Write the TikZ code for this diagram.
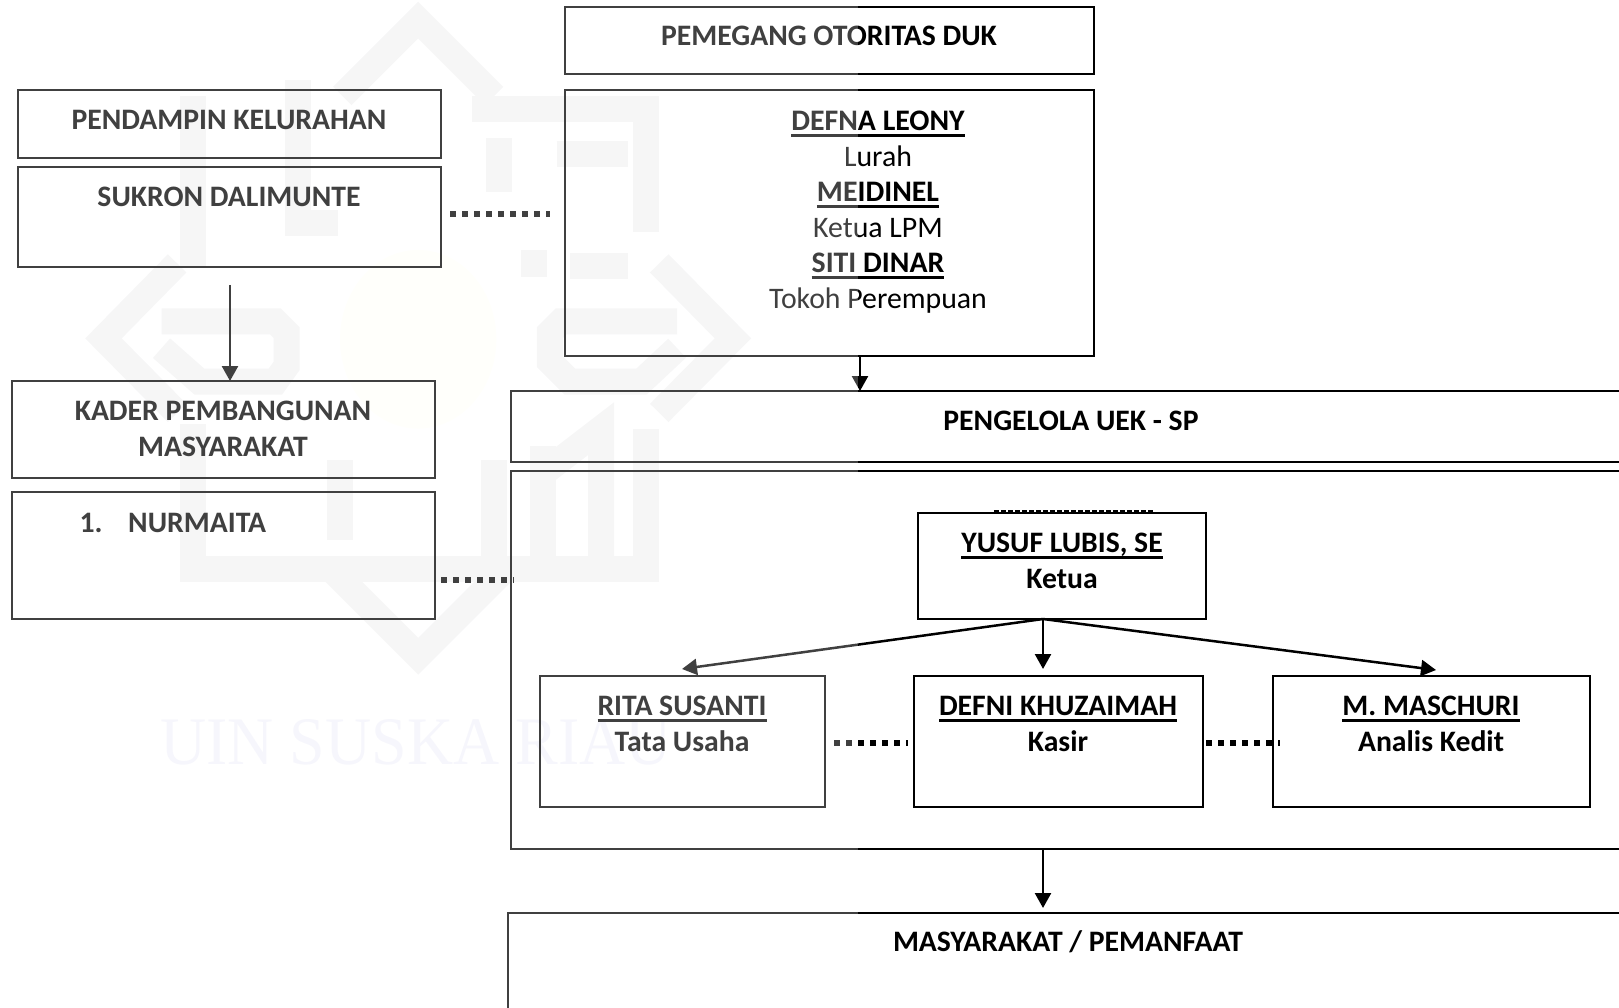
\documentclass[tikz,border=0pt]{standalone}
\usepackage{fontspec}
\setmainfont{Carlito}
\newfontfamily\wmfont{Liberation Serif}
\usetikzlibrary{arrows.meta}
\definecolor{wmgray}{HTML}{F3F3F4}
\definecolor{wmblue}{HTML}{F4F4FB}
\definecolor{wmyellow}{HTML}{FFFFFA}
\newcommand{\ulname}[1]{{\setbox0\hbox{#1}\dp0=0pt \vtop{\box0\kern3.2pt\hrule height 3pt}}}
\tikzset{
  orgbox/.style={draw=black,line width=2.2pt,rectangle,anchor=north west,inner sep=0pt,outer sep=0pt},
  headtxt/.style={font=\fontsize{29.7}{35.5}\selectfont\bfseries,align=center,inner sep=0pt},
  plaintxt/.style={font=\fontsize{29.8}{35.5}\selectfont,align=center,inner sep=0pt},
  arrowline/.style={draw=black,line width=2.5pt,-{Triangle[length=15pt,width=16pt]}},
  dotline/.style={draw=black,line width=6pt,dash pattern=on 6pt off 6pt},
  wmline/.style={draw=wmgray,line width=26pt,line join=miter}
}
\begin{document}
\begin{tikzpicture}[x=1pt,y=-1pt]
    \useasboundingbox (0,0) rectangle (1619,1008);
    \clip (0,0) rectangle (1619,1008);

    % Watermark
    \begin{scope}[shift={(70,0)},x=0.4464pt,y=-0.4464pt]
        \fill[wmyellow] (780,760) ellipse (175 and 200);
        \draw[wmline] (610,215) -- (780,45) -- (950,215);
        \draw[wmline] (240,590) -- (75,758) -- (240,925);
        \draw[wmline] (1320,590) -- (1485,758) -- (1320,925);
        \draw[wmline] (590,1280) -- (780,1470) -- (970,1280);
        \draw[wmline] (275,215) -- (275,600);
        \draw[wmline] (275,950) -- (275,1275) -- (1290,1275) -- (1290,960);
        \draw[wmline] (900,245) -- (1290,245) -- (1290,520);
        \draw[wmline] (1090,345) -- (1250,345);
        \draw[wmline] (510,180) -- (510,500) -- (600,500);
        \draw[wmline] (205,720) -- (460,720) -- (485,745) -- (485,820) -- (460,855) -- (290,855) -- (205,780);
        \draw[wmline] (1360,720) -- (1100,720) -- (1075,745) -- (1075,810) -- (1120,855) -- (1280,855) -- (1360,780);
        \draw[wmline] (950,1030) -- (950,1275);
        \draw[wmline] (1060,1000) -- (1060,1275);
        \draw[wmline] (1060,1060) -- (1190,960) -- (1190,1275);
        \draw[wmline] (605,1030) -- (605,1210);
        \draw[wmline] (960,310) -- (960,430);
        \draw[wmline] (1040,560) -- (1040,620);
        \draw[wmline] (1120,595) -- (1250,595);
    \end{scope}
    \node[text=wmblue,font=\fontsize{68}{68}\wmfont,xscale=.94] (wmname) at (416,742) {UIN SUSKA RIAU};

    % Left column
    \node[orgbox,minimum width=423pt,minimum height=68pt] (pendamping) at (18,90) {};
    \node[orgbox,minimum width=423pt,minimum height=100pt] (sukron) at (18,167) {};
    \node[orgbox,minimum width=423pt,minimum height=97pt] (kader) at (12,381) {};
    \node[orgbox,minimum width=423pt,minimum height=127pt] (nurmaita) at (12,492) {};
    \node[headtxt] (pendampingtxt) at (229,120) {PENDAMPIN KELURAHAN};
    \node[headtxt] (sukrontxt) at (229,197) {SUKRON DALIMUNTE};
    \node[headtxt] (kadertxt) at (223,429) {KADER PEMBANGUNAN\\MASYARAKAT};
    \node[headtxt] (nomortxt) at (91,523) {1.};
    \node[headtxt,anchor=west] (nurmaitatxt) at (128,523) {NURMAITA};

    % Top right
    \node[orgbox,minimum width=529pt,minimum height=67pt] (otoritas) at (565,7) {};
    \node[orgbox,minimum width=529pt,minimum height=266pt] (defna) at (565,90) {};
    \node[headtxt] (otoritastxt) at (829,36) {PEMEGANG OTORITAS DUK};
    \node[plaintxt] (defnatxt) at (878,212) {\textbf{\ulname{DEFNA LEONY}}\\Lurah\\\textbf{\ulname{MEIDINEL}}\\Ketua LPM\\\textbf{\ulname{SITI DINAR}}\\Tokoh Perempuan};

    % Pengelola
    \node[orgbox,minimum width=1150pt,minimum height=71pt] (pengelola) at (511,391) {};
    \node[orgbox,minimum width=1150pt,minimum height=378pt] (utama) at (511,471) {};
    \node[orgbox,minimum width=1150pt,minimum height=140pt] (pemanfaat) at (508,913) {};
    \node[headtxt] (pengelolatxt) at (1071,421) {PENGELOLA UEK - SP};
    \node[headtxt] (pemanfaattxt) at (1068,942) {MASYARAKAT / PEMANFAAT};

    % Staff
    \node[orgbox,minimum width=288pt,minimum height=106pt] (yusuf) at (918,513) {};
    \node[orgbox,minimum width=285pt,minimum height=131pt] (rita) at (540,676) {};
    \node[orgbox,minimum width=289pt,minimum height=131pt] (defni) at (914,676) {};
    \node[orgbox,minimum width=317pt,minimum height=131pt] (maschuri) at (1273,676) {};
    \node[headtxt] (yusuftxt) at (1062,561) {\ulname{YUSUF LUBIS, SE}\\Ketua};
    \node[headtxt] (ritatxt) at (682,724) {\ulname{RITA SUSANTI}\\Tata Usaha};
    \node[headtxt] (defnitxt) at (1058,724) {\ulname{DEFNI KHUZAIMAH}\\Kasir};
    \node[headtxt] (maschuritxt) at (1431,724) {\ulname{M. MASCHURI}\\Analis Kedit};

    % Free ends
    \coordinate (sukronfoot) at (230,285);
    \coordinate (defnafoot) at (860,356);
    \coordinate (yusuffoot) at (1043,619);
    \coordinate (utamafoot) at (1043,849);
    \coordinate (ritatip) at (682,669);
    \coordinate (defnitip) at (1043,669);
    \coordinate (maschuritip) at (1436,670);

    % Arrows
    \draw[arrowline] (sukronfoot) -- (sukronfoot |- kader.north);
    \draw[arrowline] (defnafoot) -- (defnafoot |- pengelola.north);
    \draw[arrowline] (yusuffoot) -- (ritatip);
    \draw[arrowline] (yusuffoot) -- (defnitip);
    \draw[arrowline] (yusuffoot) -- (maschuritip);
    \draw[arrowline] (utamafoot) -- ([yshift=5pt]utamafoot |- pemanfaat.north);

    % Dotted links
    \draw[dotline,shorten <=9pt,shorten >=15pt] ([yshift=3pt]sukron.east) -- ([yshift=3pt]sukron.east -| defna.west);
    \draw[dotline,shorten >=-3pt] ([yshift=-24pt]nurmaita.east) ++(6,0) -- ([yshift=-24pt]nurmaita.east -| utama.west);
    \draw[dotline,shorten <=9pt,shorten >=6pt] ([yshift=-1.5pt]rita.east) -- ([yshift=-1.5pt]rita.east -| defni.west);
    \draw[dotline,shorten <=3pt,shorten >=-7pt] ([yshift=-1.5pt]defni.east) -- ([yshift=-1.5pt]defni.east -| maschuri.west);
    \draw[draw=black,line width=2pt,dash pattern=on 5pt off 2pt] ([shift={(-68,-2)}]yusuf.north) -- ([shift={(92,-2)}]yusuf.north);

    % Fade on the left part of the page
    \fill[white,opacity=0.25] (0,0) rectangle (858,1008);
\end{tikzpicture}
\end{document}
